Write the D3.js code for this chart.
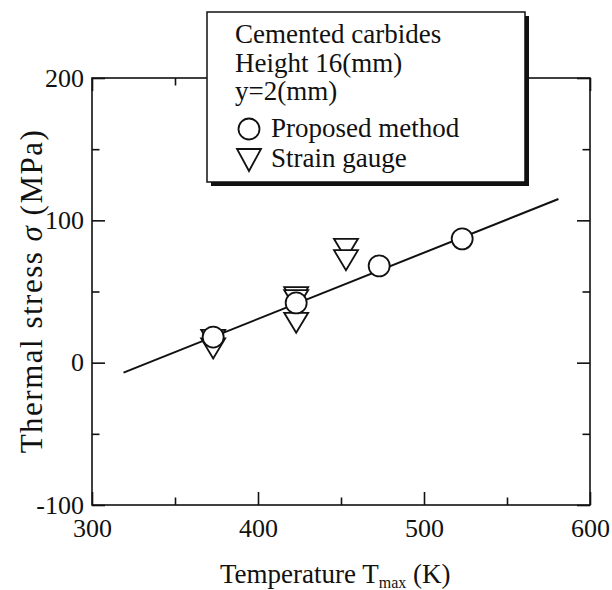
<!DOCTYPE html>
<html>
<head>
<meta charset="utf-8">
<script src="https://cdn.jsdelivr.net/npm/d3@7"></script>
<style>
  body { margin: 0; background: #fff; }
  svg text { font-family: "Liberation Serif", "Times New Roman", serif; fill: #111; }
</style>
</head>
<body>
<div id="chart"></div>
<script>
// data
var xMajor = [300, 400, 500, 600];
var xMinor = [350, 450, 550];
var yMajor = [-100, 0, 100, 200];
var yMinor = [-50, 50, 150];

var proposedT = [373, 423, 473, 523];
var proposedS = [18, 42, 68, 87];

var gaugeT = [373, 373, 423, 423, 423, 453, 453];
var gaugeS = [16, 10, 46, 44, 28, 80, 72];

// fitted line end points
var fitT = [319, 581];
var fitS = [-7, 115];

var legendLines = ["Cemented carbides", "Height 16(mm)", "y=2(mm)"];
var legendItems = ["Proposed method", "Strain gauge"];

var W = 612, H = 590;
var margin = {top: 78, right: 22, bottom: 85, left: 92};

var x = d3.scaleLinear().domain([300, 600]).range([margin.left, W - margin.right]);
var y = d3.scaleLinear().domain([-100, 200]).range([H - margin.bottom, margin.top]);

var svg = d3.select("#chart").append("svg")
  .attr("width", W)
  .attr("height", H);

// frame
svg.append("rect")
  .attr("x", x(300)).attr("y", y(200))
  .attr("width", x(600) - x(300)).attr("height", y(-100) - y(200))
  .attr("fill", "none").attr("stroke", "#111").attr("stroke-width", 1.6);

// ticks (inward), major + minor on all sides
function ticks(axisFn, vals, size, tr, labels) {
  var g = svg.append("g")
    .attr("transform", tr)
    .call(axisFn.tickValues(vals).tickSizeInner(-size).tickSizeOuter(0).tickPadding(size + 8)
      .tickFormat(labels ? function(d) { return String(d); } : ""));
  g.select(".domain").remove();
  g.selectAll(".tick line").attr("stroke", "#111").attr("stroke-width", 1.6);
  g.selectAll("text").style("font-size", "26px").attr("fill", "#111");
  return g;
}

var bottom = "translate(0," + y(-100) + ")";
var top_ = "translate(0," + y(200) + ")";
var left = "translate(" + x(300) + ",0)";
var right = "translate(" + x(600) + ",0)";

var gx = ticks(d3.axisBottom(x), xMajor, 13, bottom, true);
gx.selectAll("text").attr("dy", "0.71em").attr("y", 14);
ticks(d3.axisBottom(x), xMinor, 7.5, bottom, false);
ticks(d3.axisTop(x), xMajor, 13, top_, false);
ticks(d3.axisTop(x), xMinor, 7.5, top_, false);

var gy = ticks(d3.axisLeft(y), yMajor, 13, left, true);
gy.selectAll("text").attr("x", -8);
ticks(d3.axisLeft(y), yMinor, 7.5, left, false);
ticks(d3.axisRight(y), yMajor, 13, right, false);
ticks(d3.axisRight(y), yMinor, 7.5, right, false);

// fitted line
var line = d3.line().x(function(d) { return x(d[0]); }).y(function(d) { return y(d[1]); });
svg.append("path")
  .datum(d3.zip(fitT, fitS))
  .attr("d", line)
  .attr("fill", "none").attr("stroke", "#111").attr("stroke-width", 2);

// triangle marker, apex down, centred on its box
function tri(cx, cy, w, h) {
  return "M" + (cx - w / 2) + "," + (cy - h / 2) +
    "L" + (cx + w / 2) + "," + (cy - h / 2) +
    "L" + cx + "," + (cy + h / 2) + "Z";
}

svg.append("g").selectAll("path")
  .data(d3.zip(gaugeT, gaugeS))
  .enter().append("path")
  .attr("d", function(d) { return tri(x(d[0]), y(d[1]), 24, 20); })
  .attr("fill", "#fff").attr("stroke", "#111").attr("stroke-width", 1.8);

svg.append("g").selectAll("circle")
  .data(d3.zip(proposedT, proposedS))
  .enter().append("circle")
  .attr("cx", function(d) { return x(d[0]); })
  .attr("cy", function(d) { return y(d[1]); })
  .attr("r", 10.5)
  .attr("fill", "#fff").attr("stroke", "#111").attr("stroke-width", 1.8);

// legend box with drop shadow
var lb = {x: 207, y: 12, w: 318, h: 170};
svg.append("rect")
  .attr("x", lb.x + 4).attr("y", lb.y + 4)
  .attr("width", lb.w).attr("height", lb.h)
  .attr("fill", "#111");
svg.append("rect")
  .attr("x", lb.x).attr("y", lb.y)
  .attr("width", lb.w).attr("height", lb.h)
  .attr("fill", "#fff").attr("stroke", "#111").attr("stroke-width", 1.5);

var lg = svg.append("g").style("font-size", "27px");
var baselines = [43, 72, 100];
legendLines.forEach(function(t, i) {
  lg.append("text").attr("x", 235).attr("y", baselines[i]).text(t);
});
lg.append("circle").attr("cx", 249).attr("cy", 129).attr("r", 10.5)
  .attr("fill", "#fff").attr("stroke", "#111").attr("stroke-width", 1.8);
lg.append("text").attr("x", 271).attr("y", 137).text(legendItems[0]);
lg.append("path").attr("d", tri(249, 160, 24, 22))
  .attr("fill", "#fff").attr("stroke", "#111").attr("stroke-width", 1.8);
lg.append("text").attr("x", 271).attr("y", 167).text(legendItems[1]);

// axis titles
var xt = svg.append("text").attr("x", 220).attr("y", 583).style("font-size", "27px");
xt.append("tspan").text("Temperature T");
xt.append("tspan").attr("dy", 5).style("font-size", "16px").text("max");
xt.append("tspan").attr("dy", -5).text(" (K)");

var yt = svg.append("text")
  .attr("transform", "translate(42,291) rotate(-90)")
  .attr("text-anchor", "middle")
  .style("font-size", "31px")
  .style("letter-spacing", "1.5px");
yt.append("tspan").text("Thermal stress ");
yt.append("tspan").style("font-style", "italic").text("σ");
yt.append("tspan").text(" (MPa)");
</script>
</body>
</html>
